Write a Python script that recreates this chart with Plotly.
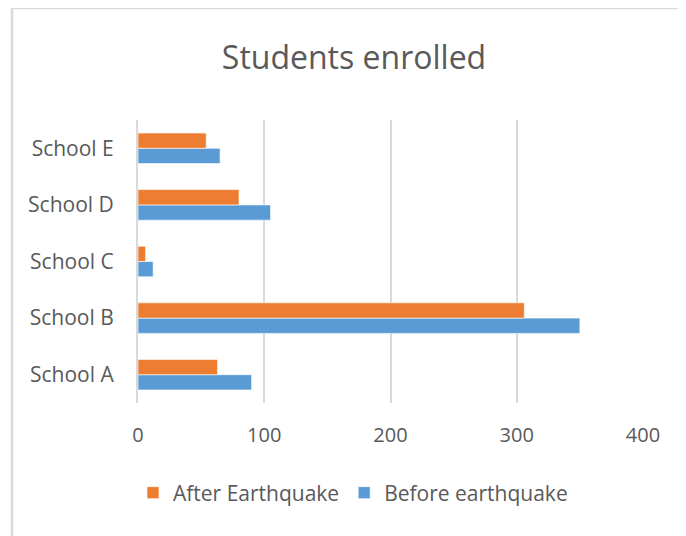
import plotly.graph_objects as go

schools = ["School A", "School B", "School C", "School D", "School E"]
before = [90, 350, 12, 105, 65]
after = [63, 306, 6, 80, 54]
x_ticks = [0, 100, 200, 300, 400]

OFF = 8  # page body margin
W, H = 686 - OFF, 536 - OFF
L, R, T, B = 138 - OFF, 43, 120 - OFF, 133
pw, ph = W - L - R, H - T - B

def px(x):
    return (x - OFF - L) / pw

def py(y):
    return (OFF + H - B - y) / ph

font_family = "Open Sans, Lato, sans-serif"
txt = "#595959"

fig = go.Figure()
fig.add_trace(go.Bar(
    y=schools, x=before, orientation="h", name="Before earthquake",
    marker=dict(color="#5b9bd5", line=dict(color="rgba(255,255,255,0.6)", width=1)),
))
fig.add_trace(go.Bar(
    y=schools, x=after, orientation="h", name="After Earthquake",
    marker=dict(color="#ed7d31", line=dict(color="rgba(255,255,255,0.6)", width=1)),
))

fig.update_layout(
    width=W, height=H,
    margin=dict(l=L, r=R, t=T, b=B),
    paper_bgcolor="white", plot_bgcolor="white",
    barmode="group", bargap=0.46, bargroupgap=0,
    font=dict(family=font_family, color=txt, size=20),
    title=dict(text="Students enrolled", x=(354 - OFF) / W, xref="container",
               y=1 - (58 - OFF) / H, yref="container", xanchor="center", yanchor="middle",
               font=dict(size=32, color=txt, family=font_family)),
    xaxis=dict(range=[0, 400], tickvals=x_ticks, ticktext=[str(v) for v in x_ticks],
               showgrid=True, gridcolor="#d9d9d9", gridwidth=2,
               zeroline=False, showline=False, ticks="", ticklabelstandoff=18,
               tickfont=dict(size=20, color=txt), fixedrange=True),
    yaxis=dict(showgrid=False, zeroline=False, showline=True, linecolor="#d9d9d9",
               linewidth=2, ticks="", ticklabelstandoff=18,
               tickfont=dict(size=21, color=txt)),
    legend=dict(orientation="h", x=(353 - OFF) / W, xref="container", xanchor="center",
                y=1 - (493 - OFF) / H, yref="container", yanchor="middle",
                traceorder="reversed", font=dict(size=21, color=txt),
                itemwidth=30),
    showlegend=True,
    shapes=[dict(type="rect", xref="paper", yref="paper",
                 x0=px(12), x1=px(720), y0=py(570), y1=py(8),
                 line=dict(color="#d9d9d9", width=2.5), fillcolor="rgba(0,0,0,0)",
                 layer="below")],
)

fig.write_html("out.html")
